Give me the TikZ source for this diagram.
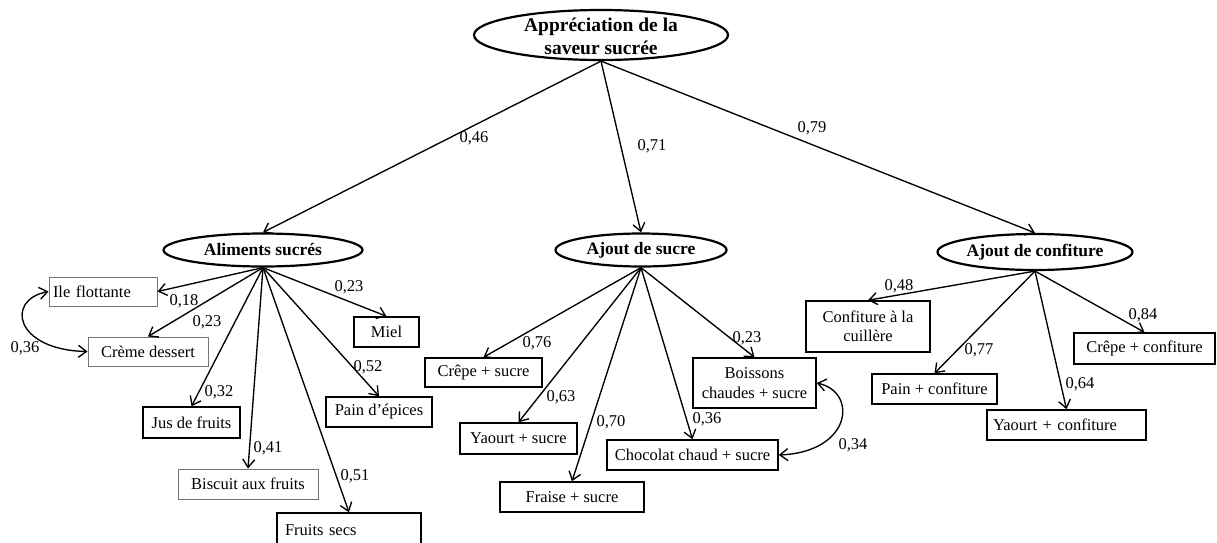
\documentclass[tikz,border=0pt]{standalone}
\usepackage{fontspec}
\setmainfont{Liberation Serif}
\usetikzlibrary{arrows.meta,shapes.geometric}
\begin{document}
\begin{tikzpicture}[x=1pt,y=-1pt,
  latent/.style={ellipse, draw, line width=2.2pt, inner sep=0pt},
  latlbl/.style={font=\bfseries\fontsize{17.5}{20}\selectfont, inner sep=0pt, align=center},
  toplbl/.style={font=\bfseries\fontsize{19.5}{23}\selectfont, inner sep=0pt, align=center},
  lbl/.style={font=\fontsize{16.5}{19.5}\selectfont, inner sep=0pt},
  obs/.style={rectangle, draw, line width=1.5pt, inner sep=0pt, font=\fontsize{16.5}{19.5}\selectfont, align=center},
  obsg/.style={obs, draw=black!55, line width=1pt},
  arr/.style={line width=1.35pt, -{Straight Barb[length=8pt,width=12pt]}},
  cov/.style={line width=1.35pt, {Straight Barb[length=8pt,width=12pt]}-{Straight Barb[length=8pt,width=12pt]}},
]
\useasboundingbox (0,0) rectangle (1217,542);

% latent variables
\node[latent, minimum width=254pt, minimum height=50pt] (top) at (601,35) {};
\node[toplbl] (toptxt) at (601,36) {Appréciation de la\\saveur sucrée};
\node[latent, minimum width=199pt, minimum height=33pt] (as) at (263,250) {};
\node[latlbl] (astxt) at (263,250) {Aliments sucrés};
\node[latent, minimum width=171pt, minimum height=33pt] (su) at (641,250) {};
\node[latlbl] (sutxt) at (641,250) {Ajout de sucre};
\node[latent, minimum width=195pt, minimum height=36pt] (co) at (1035,252) {};
\node[latlbl] (cotxt) at (1035,252) {Ajout de confiture};

% observed: Aliments sucres
\node[obsg, minimum width=108pt, minimum height=29pt, text width=100pt, inner xsep=4pt, align=left] (ile) at (103,291.5) {Ile flottante};
\node[obsg, minimum width=120pt, minimum height=29pt] (creme) at (148,351.5) {Crème dessert};
\node[obs, minimum width=97pt, minimum height=31pt] (jus) at (191.5,422.5) {Jus de fruits};
\node[obsg, minimum width=140pt, minimum height=30pt] (bisc) at (248,484) {Biscuit aux fruits};
\node[obs, minimum width=144pt, minimum height=34pt, text width=128pt, inner xsep=8pt, align=left] (fsec) at (349,530) {Fruits secs};
\node[obs, minimum width=106pt, minimum height=30pt] (pep) at (379,412) {Pain d’épices};
\node[obs, minimum width=65pt, minimum height=30pt] (miel) at (386.5,332) {Miel};

% observed: Ajout de sucre
\node[obs, minimum width=117pt, minimum height=29pt] (crs) at (483.5,372.5) {Crêpe + sucre};
\node[obs, minimum width=117pt, minimum height=31pt] (yas) at (518.5,438.5) {Yaourt + sucre};
\node[obs, minimum width=144pt, minimum height=30pt] (frs) at (572,497) {Fraise + sucre};
\node[obs, minimum width=171pt, minimum height=30pt] (chs) at (692.5,455) {Chocolat chaud + sucre};
\node[obs, minimum width=123pt, minimum height=50pt] (bos) at (754.5,383) {Boissons\\chaudes + sucre};

% observed: Ajout de confiture
\node[obs, minimum width=124pt, minimum height=51pt] (cuil) at (868,326.5) {Confiture à la\\cuillère};
\node[obs, minimum width=125pt, minimum height=30pt] (pac) at (934.5,389) {Pain + confiture};
\node[obs, minimum width=159pt, minimum height=30pt, text width=147pt, inner xsep=6pt, align=left] (yac) at (1066.5,425) {Yaourt + confiture};
\node[obs, minimum width=141pt, minimum height=31pt] (crc) at (1144.5,348.5) {Crêpe + confiture};

% paths
\draw[arr] (top.south) -- (as.north);
\draw[arr] (top.south) -- (su.north);
\draw[arr] (top.south) -- (co.north);

\draw[arr] (as.south) -- (ile.east);
\draw[arr] (as.south) -- (creme.north);
\draw[arr] (as.south) -- (jus.north);
\draw[arr] (as.south) -- (bisc.north);
\draw[arr] (as.south) -- (fsec.north);
\draw[arr] (as.south) -- (pep.north);
\draw[arr] (as.south) -- (miel.north);

\draw[arr] (su.south) -- (crs.north);
\draw[arr] (su.south) -- (yas.north);
\draw[arr] (su.south) -- (frs.north);
\draw[arr] (su.south) -- (chs.north);
\draw[arr] (su.south) -- (bos.north);

\draw[arr] (co.south) -- (cuil.north);
\draw[arr] (co.south) -- (pac.north);
\draw[arr] (co.south) -- (yac.north);
\draw[arr] (co.south) -- (crc.north);

% covariances
\draw[cov] (ile.west) .. controls (5,300) and (15,350) .. (creme.west);
\draw[cov] (bos.east) .. controls (858,392) and (852,452) .. (chs.east);

% coefficients
\node[lbl] (c1) at (474,138) {0,46};
\node[lbl] (c2) at (652,146) {0,71};
\node[lbl] (c3) at (812,128) {0,79};

\node[lbl] (c4) at (184,301) {0,18};
\node[lbl] (c5) at (207,322) {0,23};
\node[lbl] (c6) at (219,392) {0,32};
\node[lbl] (c7) at (268,448) {0,41};
\node[lbl] (c8) at (355,476) {0,51};
\node[lbl] (c9) at (368,367) {0,52};
\node[lbl] (c10) at (349,287) {0,23};
\node[lbl] (c11) at (25,348) {0,36};

\node[lbl] (c12) at (537,343) {0,76};
\node[lbl] (c13) at (561,397) {0,63};
\node[lbl] (c14) at (611,422) {0,70};
\node[lbl] (c15) at (707,419) {0,36};
\node[lbl] (c16) at (747,338) {0,23};
\node[lbl] (c17) at (853,445) {0,34};

\node[lbl] (c18) at (899,286) {0,48};
\node[lbl] (c19) at (979,350) {0,77};
\node[lbl] (c20) at (1080,384) {0,64};
\node[lbl] (c21) at (1143,315) {0,84};
\end{tikzpicture}
\end{document}
